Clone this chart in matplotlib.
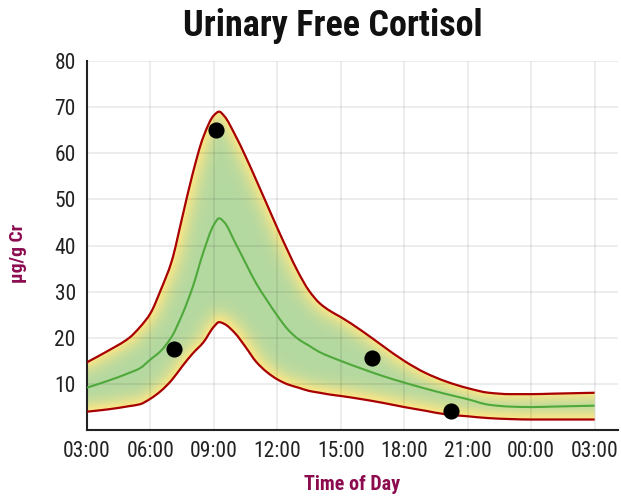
import numpy as np
import matplotlib
matplotlib.use("Agg")
import matplotlib.pyplot as plt
from matplotlib.path import Path
from matplotlib.patches import PathPatch

# ---------------- data ----------------
hours = [3, 4, 5, 5.5, 6, 6.5, 7, 7.5, 8, 8.5, 9, 9.25, 9.5, 10, 10.5, 11, 11.5,
         12, 12.5, 13, 13.5, 14, 14.5, 15, 16, 17, 18, 19, 20, 21, 22, 23, 24,
         25, 26, 27]
upper = [14.7, 17.2, 20.0, 22.3, 25.3, 30.5, 36.5, 46.0, 55.6, 63.5, 68.2, 69.0,
         68.0, 64.0, 59.3, 54.2, 49.0, 43.8, 38.8, 34.1, 30.2, 27.5, 25.8, 24.5,
         21.5, 18.2, 15.0, 12.4, 10.5, 9.1, 8.1, 7.8, 7.8, 7.9, 8.0, 8.1]
median = [9.2, 10.7, 12.4, 13.4, 15.3, 17.2, 20.2, 25.0, 31.0, 38.5, 44.5, 45.9,
          45.0, 40.7, 36.2, 31.8, 28.2, 24.8, 21.8, 19.7, 18.3, 16.9, 15.9, 15.0,
          13.3, 11.7, 10.3, 9.0, 7.8, 6.7, 5.5, 5.1, 5.0, 5.1, 5.2, 5.3]
lower = [4.0, 4.5, 5.2, 5.6, 6.8, 8.5, 10.8, 13.8, 16.6, 19.0, 22.4, 23.4, 23.0,
         21.0, 18.0, 14.8, 12.6, 11.0, 9.9, 9.2, 8.5, 8.1, 7.7, 7.4, 6.7, 5.9,
         5.0, 4.2, 3.4, 3.0, 2.6, 2.4, 2.3, 2.3, 2.3, 2.3]
sample_hours = [7.13, 9.12, 16.47, 20.23]
sample_values = [17.5, 65.0, 15.6, 4.1]
xtick_pos = [3, 6, 9, 12, 15, 18, 21, 24, 27]
xtick_labels = ["03:00", "06:00", "09:00", "12:00", "15:00", "18:00", "21:00",
                "00:00", "03:00"]
ytick_pos = [10, 20, 30, 40, 50, 60, 70, 80]

FONT = ["Roboto Condensed", "Roboto", "DejaVu Sans"]
plt.rcParams["font.family"] = FONT
LABEL_COLOR = "#8c0b4f"


def tangents(x, y):
    """Monotone (Fritsch-Butland) tangents for a smooth, non-overshooting spline."""
    hh = np.diff(x)
    d = np.diff(y) / hh
    m = np.zeros_like(y)
    m[0], m[-1] = d[0], d[-1]
    for i in range(1, len(y) - 1):
        if d[i - 1] * d[i] <= 0:
            m[i] = 0.0
        else:
            w1 = 2 * hh[i] + hh[i - 1]
            w2 = hh[i] + 2 * hh[i - 1]
            m[i] = (w1 + w2) / (w1 / d[i - 1] + w2 / d[i])
    return m


def segments(x, y):
    m = tangents(x, y)
    segs = []
    for i in range(len(x) - 1):
        dx = x[i + 1] - x[i]
        segs.append(((x[i], y[i]),
                     (x[i] + dx / 3, y[i] + m[i] * dx / 3),
                     (x[i + 1] - dx / 3, y[i + 1] - m[i + 1] * dx / 3),
                     (x[i + 1], y[i + 1])))
    return segs


def open_path(segs):
    verts = [segs[0][0]]
    codes = [Path.MOVETO]
    for s in segs:
        verts += [s[1], s[2], s[3]]
        codes += [Path.CURVE4] * 3
    return Path(verts, codes)


def band_path(segs_up, segs_lo):
    verts = [segs_up[0][0]]
    codes = [Path.MOVETO]
    for s in segs_up:
        verts += [s[1], s[2], s[3]]
        codes += [Path.CURVE4] * 3
    verts.append(segs_lo[-1][3])
    codes.append(Path.LINETO)
    for s in reversed(segs_lo):
        verts += [s[2], s[1], s[0]]
        codes += [Path.CURVE4] * 3
    verts.append(segs_up[0][0])
    codes.append(Path.CLOSEPOLY)
    return Path(verts, codes)


def sample(segs, n=14):
    t = np.linspace(0, 1, n)[:, None]
    out = []
    for p0, p1, p2, p3 in segs:
        p0, p1, p2, p3 = map(np.asarray, (p0, p1, p2, p3))
        out.append(((1 - t) ** 3) * p0 + 3 * ((1 - t) ** 2) * t * p1
                   + 3 * (1 - t) * t ** 2 * p2 + t ** 3 * p3)
    return np.vstack(out)


fig = plt.figure(figsize=(6.21, 4.99), dpi=100)
ax = fig.add_axes([0.140, 0.138, 0.855, 0.740])
ax.set_xlim(3, 28.1)
ax.set_ylim(0, 80)

h = np.asarray(hours, float)
seg_up = segments(h, np.asarray(upper, float))
seg_lo = segments(h, np.asarray(lower, float))
seg_md = segments(h, np.asarray(median, float))

# ---------- gradient band (green core, yellow glow near the edges) ----------
nx, ny = 360, 260
gx = np.linspace(3, 27, nx)
gy = np.linspace(0, 72, ny)
GX, GY = np.meshgrid(gx, gy)
pts = ax.transData.transform(np.column_stack([GX.ravel(), GY.ravel()]))
curve = ax.transData.transform(np.vstack([sample(seg_up), sample(seg_lo)]))
dmin = np.empty(len(pts))
chunk = 5000
for i in range(0, len(pts), chunk):
    p = pts[i:i + chunk]
    dx = p[:, 0:1] - curve[None, :, 0]
    dy = p[:, 1:2] - curve[None, :, 1]
    dmin[i:i + chunk] = np.sqrt((dx * dx + dy * dy).min(axis=1))
dmin = dmin.reshape(ny, nx)
f = np.exp(-(dmin / 10.0) ** 1.4)
green = np.array([179, 216, 161]) / 255.0
yellow = np.array([251, 230, 135]) / 255.0
rgb = green[None, None, :] * (1 - f[..., None]) + yellow[None, None, :] * f[..., None]
im = ax.imshow(rgb, extent=[3, 27, 0, 72], origin="lower", aspect="auto",
               interpolation="bilinear", zorder=1)
clip = PathPatch(band_path(seg_up, seg_lo), facecolor="none", edgecolor="none",
                 transform=ax.transData)
ax.add_patch(clip)
im.set_clip_path(clip)
ax.set_xlim(3, 28.1)
ax.set_ylim(0, 80)

# ---------------- lines & points ----------------
for segs, col, lw in [(seg_up, "#a80000", 1.6), (seg_lo, "#a80000", 1.6),
                      (seg_md, "#4ea93a", 1.5)]:
    ax.add_patch(PathPatch(open_path(segs), facecolor="none", edgecolor=col,
                           lw=lw, zorder=3, capstyle="butt"))
ax.scatter(sample_hours, sample_values, s=135, color="black", zorder=4,
           linewidths=0)

# ---------------- axes styling ----------------
for xv in xtick_pos:
    ax.axvline(xv, color="black", alpha=0.07, lw=1.45, zorder=2)
for yv in ytick_pos:
    ax.axhline(yv, color="black", alpha=0.07, lw=1.45, zorder=2)

ax.set_xticks(xtick_pos)
ax.set_xticklabels(xtick_labels)
ax.set_yticks(ytick_pos)
ax.tick_params(length=0, labelsize=15.5, colors="#222222")
ax.tick_params(axis="x", pad=8)
ax.tick_params(axis="y", pad=8)
for s in ["top", "right"]:
    ax.spines[s].set_visible(False)
for s in ["left", "bottom"]:
    ax.spines[s].set_color("#222222")
    ax.spines[s].set_linewidth(1.5)

ax.set_xlabel("Time of Day", fontsize=14.5, fontweight="bold", color=LABEL_COLOR,
              labelpad=9)
fig.text(0.029, 0.492, "µg/g Cr", rotation=90, fontsize=14, fontweight="bold",
         color=LABEL_COLOR, ha="center", va="center")
fig.text(0.536, 0.928, "Urinary Free Cortisol", fontsize=26, fontweight="bold",
         color="#111111", ha="center", va="baseline")

fig.savefig("out.png", dpi=100)
